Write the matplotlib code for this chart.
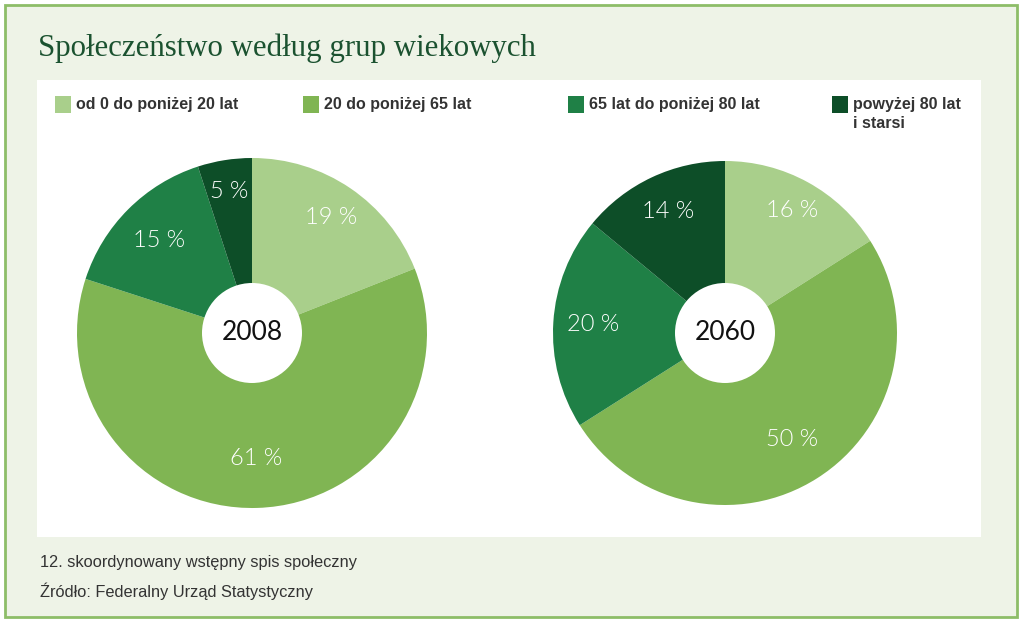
import numpy as np
import matplotlib.pyplot as plt
from matplotlib.patches import Rectangle, Circle

# data
groups = ['od 0 do poniżej 20 lat', '20 do poniżej 65 lat',
          '65 lat do poniżej 80 lat', 'powyżej 80 lat\ni starsi']
colors = ['#a9cf8b', '#80b553', '#1f8046', '#0d4e28']
years = ['2008', '2060']
shares_2008 = [19, 61, 15, 5]
shares_2060 = [16, 50, 20, 14]

W, H = 1023, 622
fig = plt.figure(figsize=(W / 100, H / 100), dpi=100)
fig.patch.set_facecolor('white')

def px(x, y):
    # image pixel (y down) -> figure fraction
    return x / W, 1 - y / H

# background, border, white panel
bg = fig.add_axes([0, 0, 1, 1])
bg.set_xlim(0, W)
bg.set_ylim(H, 0)
bg.axis('off')
bg.add_patch(Rectangle((5, 5), 1012, 612, facecolor='#eef3e7', edgecolor='#8dbd68', lw=2))
bg.add_patch(Rectangle((37, 80), 944, 457, facecolor='white', edgecolor='none'))

bg.text(38, 56, 'Społeczeństwo według grup wiekowych', family='Liberation Serif',
        fontsize=22.2, color='#1b5230', va='baseline')

# legend
leg_x = [55, 303, 568, 832]
for x, lab, c in zip(leg_x, groups, colors):
    bg.add_patch(Rectangle((x, 96), 16, 17, facecolor=c, edgecolor='none'))
    bg.text(x + 21, 97.5, lab, family='Liberation Sans', fontweight='bold',
            fontsize=11.5, color='#333333', va='top', linespacing=1.3)

bg.text(40, 563, '12. skoordynowany wstępny spis społeczny', family='Liberation Sans',
        fontsize=11.8, color='#333333', va='center')
bg.text(40, 591, 'Źródło: Federalny Urząd Statystyczny', family='Liberation Sans',
        fontsize=11.8, color='#333333', va='center')

def draw_pie(cx, cy, r, shares, year, label_r):
    x0, y0 = px(cx - r, cy + r)
    ax = fig.add_axes([x0, y0, 2 * r / W, 2 * r / H])
    wedges, _ = ax.pie(shares, colors=colors, startangle=90, counterclock=False,
                       radius=1, wedgeprops=dict(linewidth=0))
    ax.set_xlim(-1, 1)
    ax.set_ylim(-1, 1)
    ax.axis('off')
    for w, v, lr in zip(wedges, shares, label_r):
        a = np.deg2rad((w.theta1 + w.theta2) / 2)
        ax.text(lr * np.cos(a), lr * np.sin(a), f'{v} %', color='white',
                family='Lato', fontweight=300, fontsize=17, ha='center', va='center')
    ax.add_patch(Circle((0, 0), 50 / r, facecolor='white', edgecolor='none'))
    ax.text(0, 0, year, family='Lato', fontsize=19, color='#111111',
            ha='center', va='center')

draw_pie(252, 333, 175, shares_2008, years[0], [0.8, 0.72, 0.75, 0.82])
draw_pie(725, 333, 172, shares_2060, years[1], [0.81, 0.73, 0.77, 0.78])

fig.savefig('out.png', dpi=100)
